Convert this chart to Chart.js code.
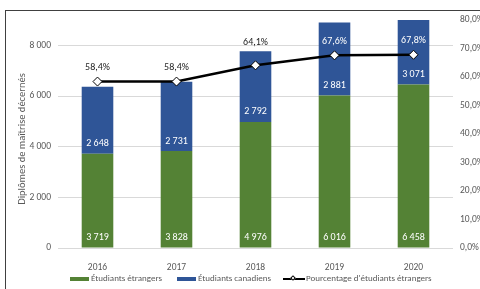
<!DOCTYPE html>
<html lang="fr">
<head>
<meta charset="utf-8">
<script src="https://cdn.jsdelivr.net/npm/chart.js@4/dist/chart.umd.min.js"></script>
<style>
  html, body { margin: 0; padding: 0; background: #fff; }
  #wrap { position: relative; width: 480px; height: 289px; overflow: hidden; }
  #frame { position: absolute; left: 5px; top: 10px; right: -2px; bottom: -2px;
           border-left: 1.5px solid #404040; border-top: 1.5px solid #404040; }
  #chart { position: absolute; left: 0; top: 0; }
  #legend { position: absolute; top: 271px; left: 0; width: 480px; height: 14px;
            font: 9px "Liberation Sans Narrow", "Carlito", "Noto Sans", sans-serif; color: #595959; }
  .leg { position: absolute; top: 0; white-space: nowrap; line-height: 14px; }
  .box { display: inline-block; width: 19px; height: 4px; vertical-align: middle; margin-right: 2px; }
  .ln { display: inline-block; position: relative; width: 22px; height: 2px; background: #000;
        vertical-align: middle; margin-right: 1px; }
  .ln i { position: absolute; left: 8px; top: -2px; width: 4px; height: 4px; background: #fff;
          border: 1px solid #000; transform: rotate(45deg); box-sizing: border-box; }
</style>
</head>
<body>
<div id="wrap">
  <div id="frame"></div>
  <canvas id="chart" width="480" height="289"></canvas>
  <div id="legend">
    <span class="leg" style="left:70px"><span class="box" style="background:#548235"></span>Étudiants étrangers</span>
    <span class="leg" style="left:177px"><span class="box" style="background:#2F5597"></span>Étudiants canadiens</span>
    <span class="leg" style="left:283px"><span class="ln"><i></i></span>Pourcentage d'étudiants étrangers</span>
  </div>
</div>
<script>
'use strict';

/* Data */
const years      = ['2016', '2017', '2018', '2019', '2020'];
const foreign    = [3719, 3828, 4976, 6016, 6458];
const canadian   = [2648, 2731, 2792, 2881, 3071];
const pctForeign = [58.4, 58.4, 64.1, 67.6, 67.8];
const leftTicks  = [0, 2000, 4000, 6000, 8000];

const C_GREEN = '#548235';
const C_BLUE  = '#2F5597';
const C_GRID  = '#d9d9d9';
const C_TICK  = '#595959';
const FONT    = '"Liberation Sans Narrow", "Carlito", "Noto Sans", sans-serif';

const fmtInt = n => String(n).replace(/\B(?=(\d{3})+(?!\d))/g, ' ');
const fmtPct = v => v.toFixed(1).replace('.', ',') + '%';

/* bar / point value labels + rotated axis title */
const labelPlugin = {
  id: 'valueLabels',
  afterDatasetsDraw(chart) {
    const ctx = chart.ctx;
    const top = chart.chartArea.top;
    ctx.save();
    ctx.font = '10px ' + FONT;
    ctx.textAlign = 'center';
    ctx.textBaseline = 'middle';
    [0, 1].forEach(di => {
      const vals = chart.data.datasets[di].data;
      chart.getDatasetMeta(di).data.forEach((el, i) => {
        ctx.fillStyle = '#fff';
        ctx.fillText(fmtInt(vals[i]), el.x, el.base - 10);
      });
    });
    const bars = chart.getDatasetMeta(1).data;
    chart.getDatasetMeta(2).data.forEach((el, i) => {
      const barTop = Math.max(bars[i].y, top);
      let ly = el.y - 14;
      if (Math.abs(ly - barTop) < 8) ly = barTop - 9;
      ctx.fillStyle = ly > barTop + 5 ? '#fff' : '#262626';
      ctx.fillText(fmtPct(pctForeign[i]), el.x, ly);
    });
    ctx.restore();
  },
  afterDraw(chart) {
    const ctx = chart.ctx;
    ctx.save();
    ctx.font = '10.5px ' + FONT;
    ctx.fillStyle = C_TICK;
    ctx.textAlign = 'center';
    ctx.textBaseline = 'middle';
    ctx.translate(22, 139);
    ctx.rotate(-Math.PI / 2);
    ctx.fillText('Diplômes de maîtrise décernés', 0, 0);
    ctx.restore();
  }
};

new Chart(document.getElementById('chart').getContext('2d'), {
  type: 'bar',
  data: {
    labels: years,
    datasets: [
      {
        label: 'Étudiants étrangers',
        data: foreign,
        backgroundColor: C_GREEN,
        yAxisID: 'y',
        stack: 's',
        order: 1,
        barPercentage: 0.4,
        categoryPercentage: 1,
      },
      {
        label: 'Étudiants canadiens',
        data: canadian,
        backgroundColor: C_BLUE,
        yAxisID: 'y',
        stack: 's',
        order: 1,
        barPercentage: 0.4,
        categoryPercentage: 1,
      },
      {
        type: 'line',
        label: "Pourcentage d'étudiants étrangers",
        data: pctForeign,
        yAxisID: 'y1',
        borderColor: '#000',
        borderWidth: 2.5,
        pointStyle: 'rectRot',
        pointRadius: 4.5,
        pointBackgroundColor: '#fff',
        pointBorderColor: '#000',
        pointBorderWidth: 1,
        tension: 0,
        order: 0,
      },
    ],
  },
  options: {
    responsive: false,
    animation: false,
    layout: { padding: { top: 20, left: 0, right: 0, bottom: 0 } },
    plugins: { legend: { display: false }, tooltip: { enabled: false } },
    scales: {
      x: {
        stacked: true,
        grid: { display: false },
        border: { display: false },
        ticks: { color: C_TICK, font: { size: 9.5, family: FONT }, padding: 6 },
        afterFit: s => { s.height = 41; },
      },
      y: {
        stacked: true,
        position: 'left',
        min: 0,
        max: 9000,
        grid: { color: C_GRID, drawTicks: false },
        border: { display: false },
        afterBuildTicks: s => { s.ticks = leftTicks.map(v => ({ value: v })); },
        ticks: {
          color: C_TICK,
          padding: 7,
          font: { size: 9.5, family: FONT },
          callback: v => fmtInt(v),
        },
        afterFit: s => { s.width = 58; },
      },
      y1: {
        position: 'right',
        min: 0,
        max: 80,
        grid: { display: false, drawTicks: false },
        border: { display: false },
        ticks: {
          stepSize: 10,
          color: C_TICK,
          padding: 7,
          font: { size: 9.5, family: FONT },
          callback: v => fmtPct(v),
        },
        afterFit: s => { s.width = 27; },
      },
    },
  },
  plugins: [labelPlugin],
});
</script>
</body>
</html>
